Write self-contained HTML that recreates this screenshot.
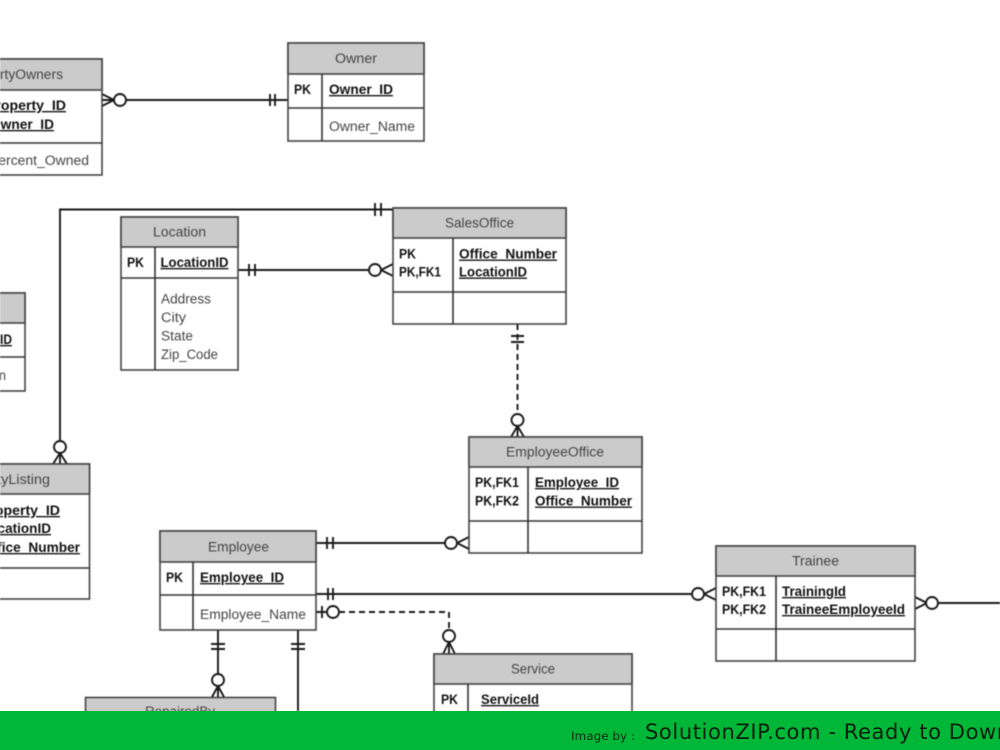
<!DOCTYPE html>
<html><head><meta charset="utf-8"><style>
html,body{margin:0;padding:0;background:#fff;width:1000px;height:750px;overflow:hidden}
svg{position:absolute;left:0;top:0}
#d{filter:blur(.5px)}
text{font-family:"Liberation Sans",sans-serif;font-size:13.5px;fill:#444}
.k{font-weight:bold;fill:#111}
.u{font-weight:bold;fill:#111;text-decoration:underline}
.b{fill:#fff;stroke:#444;stroke-width:1.6}
.h{fill:#cbcbcb;stroke:#444;stroke-width:1.6}
.l{stroke:#333;stroke-width:1.6;fill:none}
.c{stroke:#1a1a1a;stroke-width:1.9;fill:none}
.o{stroke:#1a1a1a;stroke-width:1.9;fill:#fff}
.da{stroke-dasharray:6 4}
</style></head><body>
<svg id="d" width="1000" height="750" viewBox="0 0 1000 750">
<!-- connectors -->
<path class="c" d="M102 100H288M270 94V106M275 94V106M114 100L102 94M114 100L102 106"/><circle class="o" cx="120" cy="100" r="6"/>
<path class="c" d="M393 209.500H60V441M375 203V216M381 203V216M60 453L53 464M60 453L67 464M60 453V464"/><circle class="o" cx="60" cy="447" r="6"/>
<path class="c" d="M238 270H369M249 264V276M255 264V276M381 270L393 264M381 270L393 276"/><circle class="o" cx="375" cy="270" r="6"/>
<path class="c da" d="M517.500 324V413"/><path class="c" d="M511 336H524M511 342H524M517.500 426L511 437M517.500 426L524 437M517.500 426V437"/><circle class="o" cx="517.500" cy="420" r="6"/>
<path class="c" d="M316 543H445M327 537V549M333 537V549M457 543L469 537M457 543L469 549"/><circle class="o" cx="451" cy="543" r="6"/>
<path class="c" d="M316 594H692M328 588V600M333 588V600M704 594L716 588M704 594L716 600"/><circle class="o" cx="698" cy="594" r="6"/>
<path class="c da" d="M339 612H449V630"/><path class="c" d="M316 612H327M322 606V618M449 642L443 654M449 642L455 654M449 642V654"/><circle class="o" cx="333" cy="612" r="6"/><circle class="o" cx="449" cy="636" r="6"/>
<path class="c" d="M218 630V674M211 644H225M211 649H225M218 686L212 697M218 686L224 697M218 686V697"/><circle class="o" cx="218" cy="680" r="6"/>
<path class="c" d="M298 630V711M291 644H305M291 649H305"/>
<path class="c" d="M938 603H1000M927 603L915 597M927 603L915 609"/><circle class="o" cx="932" cy="603" r="6"/>

<!-- PropertyOwners -->
<rect class="b" x="-60" y="59" width="162" height="116"/><rect class="h" x="-60" y="59" width="162" height="31"/><path class="l" d="M-60 143H102"/>
<text x="-37" y="79" textLength="100" lengthAdjust="spacingAndGlyphs">PropertyOwners</text>
<text class="u" x="-14" y="110" textLength="80" lengthAdjust="spacingAndGlyphs">Property_ID</text>
<text class="u" x="-10" y="129" textLength="64" lengthAdjust="spacingAndGlyphs">Owner_ID</text>
<text x="-11" y="165" textLength="100" lengthAdjust="spacingAndGlyphs">Percent_Owned</text>

<!-- Owner -->
<rect class="b" x="288" y="43" width="136" height="98"/><rect class="h" x="288" y="43" width="136" height="31"/><path class="l" d="M288 108H424M322 74V141"/>
<text x="335" y="63" textLength="42" lengthAdjust="spacingAndGlyphs">Owner</text>
<text class="k" x="294" y="94" textLength="17" lengthAdjust="spacingAndGlyphs">PK</text>
<text class="u" x="329" y="94" textLength="64" lengthAdjust="spacingAndGlyphs">Owner_ID</text>
<text x="329" y="131" textLength="86" lengthAdjust="spacingAndGlyphs">Owner_Name</text>

<!-- Location -->
<rect class="b" x="121" y="217" width="117" height="153"/><rect class="h" x="121" y="217" width="117" height="30"/><path class="l" d="M121 278H238M155 247V370"/>
<text x="153" y="236.500" textLength="53" lengthAdjust="spacingAndGlyphs">Location</text>
<text class="k" x="127" y="267" textLength="17" lengthAdjust="spacingAndGlyphs">PK</text>
<text class="u" x="160.500" y="267" textLength="68" lengthAdjust="spacingAndGlyphs">LocationID</text>
<text x="161" y="303.500" textLength="50" lengthAdjust="spacingAndGlyphs">Address</text>
<text x="161" y="322" textLength="25" lengthAdjust="spacingAndGlyphs">City</text>
<text x="161" y="340.500" textLength="32" lengthAdjust="spacingAndGlyphs">State</text>
<text x="161" y="359" textLength="57" lengthAdjust="spacingAndGlyphs">Zip_Code</text>

<!-- SalesOffice -->
<rect class="b" x="393" y="208" width="173" height="116"/><rect class="h" x="393" y="208" width="173" height="30"/><path class="l" d="M393 292H566M453 238V324"/>
<text x="445" y="227.500" textLength="69" lengthAdjust="spacingAndGlyphs">SalesOffice</text>
<text class="k" x="399" y="258.500" textLength="17" lengthAdjust="spacingAndGlyphs">PK</text>
<text class="k" x="399" y="276.500" textLength="42" lengthAdjust="spacingAndGlyphs">PK,FK1</text>
<text class="u" x="459" y="258.500" textLength="98" lengthAdjust="spacingAndGlyphs">Office_Number</text>
<text class="u" x="459" y="276.500" textLength="68" lengthAdjust="spacingAndGlyphs">LocationID</text>

<!-- left small entity -->
<rect class="b" x="-60" y="293" width="85" height="98"/><rect class="h" x="-60" y="293" width="85" height="30"/><path class="l" d="M-60 357H25"/>
<text class="u" x="0" y="344" textLength="12" lengthAdjust="spacingAndGlyphs">ID</text>
<text x="-1" y="380" textLength="7" lengthAdjust="spacingAndGlyphs">n</text>

<!-- PropertyListing -->
<rect class="b" x="-60" y="464" width="149.500" height="135"/><rect class="h" x="-60" y="464" width="149.500" height="30"/><path class="l" d="M-60 568H89.500"/>
<text x="-46" y="484" textLength="96" lengthAdjust="spacingAndGlyphs">PropertyListing</text>
<text class="u" x="-20" y="515" textLength="80" lengthAdjust="spacingAndGlyphs">Property_ID</text>
<text class="u" x="-19" y="533" textLength="70" lengthAdjust="spacingAndGlyphs">LocationID</text>
<text class="u" x="-18" y="552" textLength="98" lengthAdjust="spacingAndGlyphs">Office_Number</text>

<!-- Employee -->
<rect class="b" x="160" y="531" width="156" height="99"/><rect class="h" x="160" y="531" width="156" height="31"/><path class="l" d="M160 595H316M193 562V630"/>
<text x="208" y="551.500" textLength="61" lengthAdjust="spacingAndGlyphs">Employee</text>
<text class="k" x="166" y="582" textLength="17" lengthAdjust="spacingAndGlyphs">PK</text>
<text class="u" x="200" y="582" textLength="84" lengthAdjust="spacingAndGlyphs">Employee_ID</text>
<text x="200" y="619" textLength="106" lengthAdjust="spacingAndGlyphs">Employee_Name</text>

<!-- EmployeeOffice -->
<rect class="b" x="469" y="437" width="173" height="116"/><rect class="h" x="469" y="437" width="173" height="30"/><path class="l" d="M469 521H642M528 467V553"/>
<text x="506" y="456.500" textLength="98" lengthAdjust="spacingAndGlyphs">EmployeeOffice</text>
<text class="k" x="475" y="487" textLength="44" lengthAdjust="spacingAndGlyphs">PK,FK1</text>
<text class="k" x="475" y="505.500" textLength="44" lengthAdjust="spacingAndGlyphs">PK,FK2</text>
<text class="u" x="535" y="487" textLength="84" lengthAdjust="spacingAndGlyphs">Employee_ID</text>
<text class="u" x="535" y="505.500" textLength="97" lengthAdjust="spacingAndGlyphs">Office_Number</text>

<!-- Trainee -->
<rect class="b" x="716" y="546" width="199" height="115"/><rect class="h" x="716" y="546" width="199" height="30"/><path class="l" d="M716 629H915M776 576V661"/>
<text x="792" y="565.500" textLength="47" lengthAdjust="spacingAndGlyphs">Trainee</text>
<text class="k" x="722" y="596" textLength="44" lengthAdjust="spacingAndGlyphs">PK,FK1</text>
<text class="k" x="722" y="614" textLength="44" lengthAdjust="spacingAndGlyphs">PK,FK2</text>
<text class="u" x="782" y="596" textLength="64" lengthAdjust="spacingAndGlyphs">TrainingId</text>
<text class="u" x="782" y="614" textLength="123" lengthAdjust="spacingAndGlyphs">TraineeEmployeeId</text>

<!-- Service -->
<rect class="b" x="434" y="654" width="198" height="80"/><rect class="h" x="434" y="654" width="198" height="30"/><path class="l" d="M468 684V734"/>
<text x="511" y="673.500" textLength="44" lengthAdjust="spacingAndGlyphs">Service</text>
<text class="k" x="441" y="704" textLength="17" lengthAdjust="spacingAndGlyphs">PK</text>
<text class="u" x="481" y="704" textLength="58" lengthAdjust="spacingAndGlyphs">ServiceId</text>

<!-- RepairedBy -->
<rect class="h" x="85.500" y="697.500" width="190" height="40"/>
<text x="145" y="716" textLength="70" lengthAdjust="spacingAndGlyphs">RepairedBy</text>
</svg>
<svg width="1000" height="750" viewBox="0 0 1000 750">
<rect x="0" y="711" width="1000" height="39" fill="#00b738"/>
<text x="571" y="740" style="font-family:'DejaVu Sans',sans-serif;font-size:11.500px;fill:#0a2a12" textLength="64" lengthAdjust="spacingAndGlyphs">Image by :</text>
<text x="645" y="739" style="font-family:'DejaVu Sans',sans-serif;font-size:21px;letter-spacing:.6px;fill:#04200c">SolutionZIP.com - Ready to Download</text>
</svg>
</body></html>
